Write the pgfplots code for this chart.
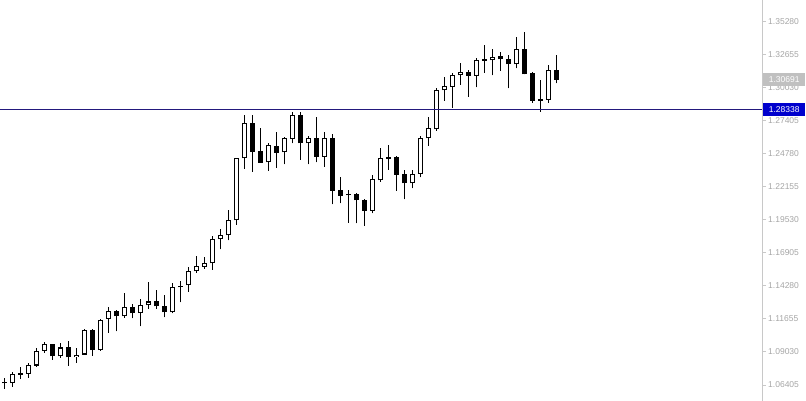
\documentclass[border=0pt]{standalone}
\usepackage{fontspec}
\setmainfont{Liberation Sans}
\usepackage{pgfplots}
\usepackage{pgfplotstable}
\pgfplotsset{compat=1.18}
\definecolor{tickgray}{RGB}{165,165,165}
\definecolor{axisgray}{RGB}{200,200,200}
\definecolor{lineblue}{RGB}{35,25,125}
\definecolor{boxblue}{RGB}{0,0,205}
\definecolor{boxgray}{RGB}{192,192,192}

\pgfplotstableread{
i o h l c
1 1.06564 1.07400 1.06246 1.07280
3 1.07280 1.08155 1.06962 1.07996
4 1.07956 1.09348 1.07837 1.09110
5 1.09110 1.09826 1.08951 1.09667
7 1.08672 1.09746 1.08553 1.09388
9 1.08632 1.09348 1.08155 1.08831
10 1.08831 1.10860 1.08792 1.10780
12 1.09189 1.11655 1.09110 1.11615
13 1.11655 1.12610 1.10542 1.12331
15 1.11854 1.13723 1.11735 1.12610
17 1.12132 1.13246 1.11059 1.12769
18 1.12729 1.14598 1.12490 1.13047
21 1.12172 1.14495 1.12109 1.14177
23 1.14336 1.15768 1.13827 1.15449
24 1.15449 1.16643 1.15338 1.15847
25 1.15815 1.16563 1.15656 1.16086
26 1.16086 1.18257 1.15553 1.17995
27 1.17995 1.18814 1.17199 1.18337
28 1.18297 1.20326 1.17915 1.19530
29 1.19506 1.24462 1.19132 1.24438
30 1.24438 1.27882 1.23611 1.27222
33 1.24120 1.25631 1.23452 1.25496
35 1.24915 1.26156 1.23961 1.26029
36 1.25973 1.28097 1.25631 1.27882
38 1.25631 1.26212 1.23961 1.26029
40 1.24565 1.26506 1.23746 1.26029
46 1.20270 1.23086 1.20063 1.22768
47 1.22688 1.25234 1.22553 1.24438
51 1.22449 1.23507 1.22052 1.23189
52 1.23189 1.26212 1.22927 1.26077
53 1.26029 1.27699 1.25440 1.26824
54 1.26745 1.30006 1.26610 1.29871
55 1.29847 1.30905 1.29020 1.30165
56 1.30133 1.31199 1.28463 1.31064
57 1.31040 1.31995 1.30269 1.31279
59 1.30985 1.32393 1.30086 1.32257
61 1.32233 1.33108 1.31040 1.32520
64 1.31915 1.34111 1.31597 1.33108
68 1.29076 1.31860 1.28861 1.31462
}\bull

\pgfplotstableread{
i o h l c
0 1.06650 1.06962 1.06087 1.06530
2 1.07360 1.07837 1.06882 1.07240
6 1.09667 1.09706 1.08394 1.08672
8 1.09388 1.09905 1.07956 1.08593
11 1.10780 1.10860 1.08712 1.09189
14 1.12331 1.12371 1.10661 1.11854
16 1.12610 1.12848 1.11695 1.12093
19 1.13047 1.13962 1.12490 1.12650
20 1.12689 1.13540 1.11775 1.12172
22 1.14300 1.14678 1.12968 1.14180
31 1.27222 1.27882 1.23372 1.24963
32 1.24995 1.26824 1.24064 1.24088
34 1.25416 1.26506 1.23690 1.24884
37 1.27882 1.28097 1.24327 1.25631
39 1.26029 1.27747 1.24120 1.24565
41 1.26053 1.26371 1.20779 1.21861
42 1.21916 1.22951 1.20859 1.21463
43 1.21600 1.21916 1.19315 1.21480
44 1.21574 1.21654 1.19268 1.21097
45 1.21121 1.21161 1.19053 1.20270
48 1.24520 1.25472 1.23507 1.24400
49 1.24518 1.24621 1.21861 1.23134
50 1.23189 1.23484 1.21177 1.22449
58 1.31279 1.31462 1.29338 1.30985
60 1.32320 1.33451 1.31247 1.32200
62 1.32575 1.32918 1.31406 1.32313
63 1.32313 1.32679 1.30006 1.31915
65 1.33108 1.34485 1.31104 1.31120
66 1.31199 1.31327 1.28861 1.28996
67 1.29135 1.30666 1.28145 1.29015
69 1.31462 1.32655 1.30404 1.30691
}\bear

\begin{document}
\begin{tikzpicture}
\begin{axis}[
  scale only axis, width=762pt, height=401pt,
  xmin=-0.5375, xmax=94.7125, ymin=1.051325, ymax=1.37030,
  axis x line=none, axis y line*=right,
  y axis line style={draw=axisgray, line width=1pt, -},
  ytick={1.06405,1.09030,1.11655,1.14280,1.16905,1.19530,1.22155,1.24780,1.27405,1.30030,1.32655,1.35280},
  yticklabels={1.06405,1.09030,1.11655,1.14280,1.16905,1.19530,1.22155,1.24780,1.27405,1.30030,1.32655,1.35280},
  ytick style={draw=axisgray, line width=1pt},
  major tick length=4pt, tick align=outside,
  yticklabel style={font=\fontsize{8.5}{10}\selectfont, text=tickgray, anchor=west, inner sep=0pt, xshift=2pt},
  clip=false,
  candle/.style={black, only marks, mark=*, mark size=0pt, mark options={draw=none, fill=none}},
]
% wicks
\addplot[candle, error bars/.cd, y dir=plus, y explicit, error mark=none, error bar style={line width=1pt, black}]
  table[x=i, y=l, y error plus expr=\thisrow{h}-\thisrow{l}] {\bull};
\addplot[candle, error bars/.cd, y dir=plus, y explicit, error mark=none, error bar style={line width=1pt, black}]
  table[x=i, y=l, y error plus expr=\thisrow{h}-\thisrow{l}] {\bear};
% bullish bodies: black frame, white inside
\addplot[candle, error bars/.cd, y dir=plus, y explicit, error mark=none, error bar style={line width=5pt, black}]
  table[x=i, y=o, y error plus expr=\thisrow{c}-\thisrow{o}] {\bull};
\addplot[candle, error bars/.cd, y dir=plus, y explicit, error mark=none, error bar style={line width=3pt, white}]
  table[x=i, y expr=\thisrow{o}+0.0008, y error plus expr={max(\thisrow{c}-\thisrow{o}-0.0016,0)}] {\bull};
% bearish bodies
\addplot[candle, error bars/.cd, y dir=plus, y explicit, error mark=none, error bar style={line width=5pt, black}]
  table[x=i, y=c, y error plus expr=\thisrow{o}-\thisrow{c}] {\bear};
% horizontal line
\addplot[lineblue, line width=1pt] coordinates {(-0.5375,1.28338) (94.7125,1.28338)};
\node[fill=boxgray, text=white, anchor=west, minimum width=42pt, minimum height=13pt, inner sep=0pt, xshift=1pt, font=\fontsize{8.5}{10}\selectfont] at (axis cs:94.7125,1.30691) {1.30691};
\node[fill=boxblue, text=white, anchor=west, minimum width=42pt, minimum height=13pt, inner sep=0pt, xshift=1pt, font=\fontsize{8.5}{10}\selectfont] at (axis cs:94.7125,1.28338) {1.28338};
\end{axis}
\pgfresetboundingbox
\path[use as bounding box] (0,0) rectangle (806pt,401pt);
\end{tikzpicture}
\end{document}
